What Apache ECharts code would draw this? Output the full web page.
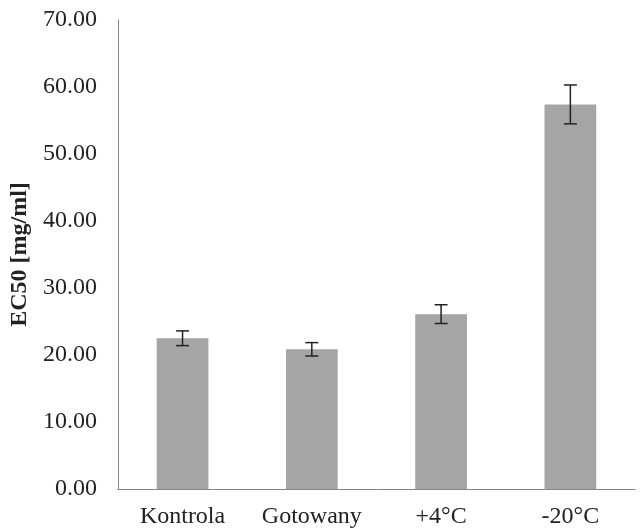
<!DOCTYPE html>
<html><head><meta charset="utf-8">
<script src="https://cdn.jsdelivr.net/npm/echarts@6/dist/echarts.min.js"></script>
<style>html,body{margin:0;padding:0;background:#fff}#c{width:640px;height:531px}</style>
</head><body><div id="c"></div>
<script>
var categories = ['Kontrola', 'Gotowany', '+4°C', '-20°C'];
var values = [22.5, 20.85, 26.1, 57.4];
var errors = [1.1, 1.0, 1.4, 2.9];
var yTicks = [0, 10, 20, 30, 40, 50, 60, 70];

var font = '"Liberation Serif","Times New Roman",serif';
var chart = echarts.init(document.getElementById('c'));
chart.setOption({
  animation: false,
  grid: {left: 115, right: 5, top: 20, bottom: 42},
  xAxis: {
    type: 'category', data: categories,
    axisLine: {lineStyle: {color: '#868686', width: 1}},
    axisTick: {show: false},
    axisLabel: {fontFamily: font, fontSize: 24, color: '#222', margin: 16, interval: 0, hideOverlap: false}
  },
  yAxis: {
    type: 'value', min: yTicks[0], max: yTicks[yTicks.length - 1], interval: 10,
    name: 'EC50 [mg/ml]', nameLocation: 'middle', nameGap: 77, nameRotate: 90,
    nameTextStyle: {fontFamily: font, fontSize: 24, fontWeight: 'bold', color: '#222'},
    axisLine: {show: true, lineStyle: {color: '#868686', width: 1}},
    axisTick: {show: false},
    splitLine: {show: false},
    axisLabel: {fontFamily: font, fontSize: 24, color: '#222', margin: 21,
      formatter: function (v) { return v.toFixed(2); }}
  },
  series: [{
    type: 'bar', data: values, barWidth: '40%',
    itemStyle: {color: '#a5a5a5'}
  }, {
    type: 'custom',
    data: values.map(function (v, i) { return [i, v - errors[i], v + errors[i]]; }),
    renderItem: function (params, api) {
      var lo = api.coord([api.value(0), api.value(1)]);
      var hi = api.coord([api.value(0), api.value(2)]);
      var hw = 6.5;
      var st = {stroke: '#222', lineWidth: 1.5};
      return {type: 'group', children: [
        {type: 'line', shape: {x1: hi[0], y1: hi[1], x2: lo[0], y2: lo[1]}, style: st},
        {type: 'line', shape: {x1: hi[0] - hw, y1: hi[1], x2: hi[0] + hw, y2: hi[1]}, style: st},
        {type: 'line', shape: {x1: lo[0] - hw, y1: lo[1], x2: lo[0] + hw, y2: lo[1]}, style: st}
      ]};
    },
    z: 10
  }]
});
</script></body></html>
